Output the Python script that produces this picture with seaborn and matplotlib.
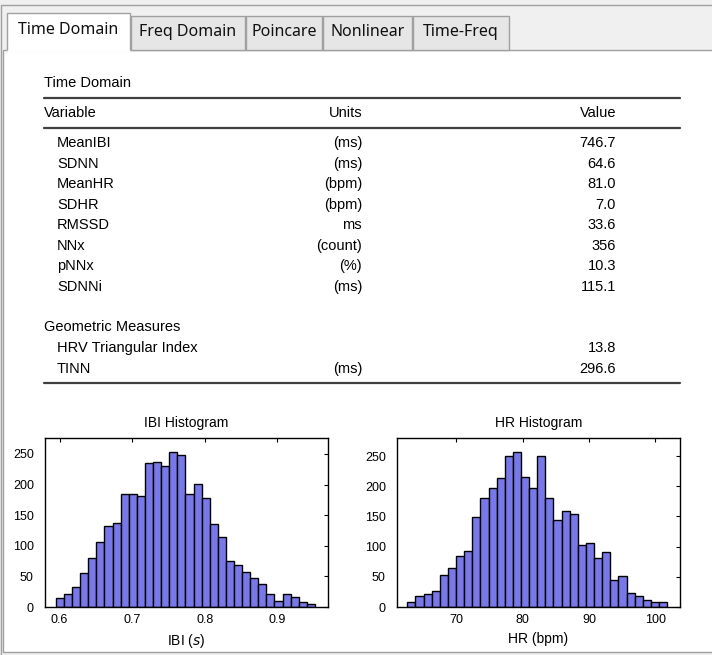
"""
HRV time domain panel
"""
import matplotlib
matplotlib.use("Agg")
import matplotlib.pyplot as plt
from matplotlib.patches import Rectangle
from matplotlib.lines import Line2D
import numpy as np
import pandas as pd
import seaborn as sns

W, H = 712, 655

tab_names = ["Time Domain", "Freq Domain", "Poincare", "Nonlinear", "Time-Freq"]

variables = ["MeanIBI", "SDNN", "MeanHR", "SDHR", "RMSSD", "NNx", "pNNx", "SDNNi"]
units = ["(ms)", "(ms)", "(bpm)", "(bpm)", "ms", "(count)", "(%)", "(ms)"]
values = ["746.7", "64.6", "81.0", "7.0", "33.6", "356", "10.3", "115.1"]

geo_variables = ["HRV Triangular Index", "TINN"]
geo_units = ["", "(ms)"]
geo_values = ["13.8", "296.6"]

# histogram bins (range + counts)
ibi_range = (0.595, 0.952)
ibi_counts = [14, 21, 33, 56, 80, 106, 132, 137, 185, 185, 182, 235, 237, 230,
              253, 249, 184, 201, 178, 135, 114, 75, 69, 57, 48, 38, 21, 10,
              21, 17, 8, 5]
hr_range = (62.66, 101.76)
hr_counts = [8, 19, 22, 26, 53, 65, 84, 93, 149, 181, 197, 214, 250, 257,
             216, 197, 250, 181, 144, 159, 154, 103, 106, 82, 91, 44, 51, 23,
             19, 12, 9, 9]

sns.set_style("white")
plt.rcParams['font.family'] = ['Liberation Sans', 'DejaVu Sans']
plt.rcParams.update({"text.color": "black", "axes.labelcolor": "black",
                     "xtick.color": "black", "ytick.color": "black"})

fig = plt.figure(figsize=(W / 100, H / 100), dpi=100, facecolor="#f0f0f0")


def fx(x):
    return x / W


def fy(y):
    return 1 - y / H


def rect(x0, y0, x1, y1, **kw):
    fig.patches.append(Rectangle((fx(x0), fy(y1)), (x1 - x0) / W, (y1 - y0) / H,
                                 transform=fig.transFigure, **kw))


def hline(x0, x1, y, **kw):
    fig.add_artist(Line2D([fx(x0), fx(x1)], [fy(y), fy(y)], transform=fig.transFigure, **kw))


def vline(x, y0, y1, **kw):
    fig.add_artist(Line2D([fx(x), fx(x)], [fy(y0), fy(y1)], transform=fig.transFigure, **kw))


# window frame + panel
edge = "#a0a0a0"
rect(3, 50, 716, 652, facecolor="white", edgecolor=edge, lw=1, zorder=-2)
hline(1, 712, 5, color=edge, lw=1)
vline(1, 5, 655, color=edge, lw=1)

# tabs
tab_edges = [7, 131, 246, 323, 413, 510]
for i, name in enumerate(tab_names):
    x0, x1 = tab_edges[i], tab_edges[i + 1] - 1
    if i == 0:
        rect(x0, 13, x1, 51, facecolor="white", edgecolor=edge, lw=1, zorder=-1)
        hline(x0 + 1, x1 - 1, 50.5, color="white", lw=2, zorder=3)
    else:
        rect(x0, 16, x1, 50, facecolor="#e6e6e6", edgecolor=edge, lw=1, zorder=-1)
    fig.text(fx((x0 + x1) / 2), fy(30 if i == 0 else 32), name, ha="center", va="center",
             fontsize=11.5, color="#101010", family=["Noto Sans", "DejaVu Sans"])

# table
fs = 10.5
fig.text(fx(44), fy(83), "Time Domain", va="center", fontsize=fs)
hline(44, 680, 98, color="#404040", lw=1.6)
fig.text(fx(44), fy(113), "Variable", va="center", fontsize=fs)
fig.text(fx(362), fy(113), "Units", va="center", ha="right", fontsize=fs)
fig.text(fx(616), fy(113), "Value", va="center", ha="right", fontsize=fs)
hline(44, 680, 128, color="#404040", lw=1.6)

for i, (v, u, val) in enumerate(zip(variables, units, values)):
    y = 143 + i * 20.57
    fig.text(fx(57), fy(y), v, va="center", fontsize=fs)
    fig.text(fx(362), fy(y), u, va="center", ha="right", fontsize=fs)
    fig.text(fx(616), fy(y), val, va="center", ha="right", fontsize=fs)

fig.text(fx(44), fy(327), "Geometric Measures", va="center", fontsize=fs)
for i, (v, u, val) in enumerate(zip(geo_variables, geo_units, geo_values)):
    y = 348 + i * 21
    fig.text(fx(57), fy(y), v, va="center", fontsize=fs)
    fig.text(fx(362), fy(y), u, va="center", ha="right", fontsize=fs)
    fig.text(fx(616), fy(y), val, va="center", ha="right", fontsize=fs)
hline(44, 680, 383, color="#404040", lw=1.6)


# histograms
def histogram(left, rng, counts, xlim, ylim, xticks, title, xlabel):
    ax = fig.add_axes([fx(left), fy(607), 283 / W, 169 / H])
    edges = np.linspace(rng[0], rng[1], len(counts) + 1)
    df = pd.DataFrame({"x": (edges[:-1] + edges[1:]) / 2, "n": counts})
    sns.histplot(data=df, x="x", weights="n", bins=len(counts), binrange=rng,
                 color="#7878e8", edgecolor="black", linewidth=1, alpha=1, ax=ax)
    ax.set_xlim(*xlim)
    ax.set_ylim(0, ylim)
    ax.set_xticks(xticks)
    ax.set_yticks([0, 50, 100, 150, 200, 250])
    ax.tick_params(direction="in", top=True, right=True, length=3, width=0.8,
                   labelsize=9, color="black", labelcolor="black")
    ax.tick_params(axis="y", pad=8)
    ax.tick_params(axis="x", pad=5)
    for s in ax.spines.values():
        s.set_color("black")
        s.set_linewidth(1)
    ax.set_title(title, fontsize=10, pad=8, color="black")
    ax.set_xlabel(xlabel, fontsize=10, labelpad=4, color="black")
    ax.set_ylabel("")
    return ax


histogram(45, ibi_range, ibi_counts, (0.580, 0.970), 276, [0.6, 0.7, 0.8, 0.9],
          "IBI Histogram", "IBI ($s$)")
histogram(397, hr_range, hr_counts, (61.1, 103.7), 280, [70, 80, 90, 100],
          "HR Histogram", "HR (bpm)")

plt.savefig("out.png", dpi=100, facecolor=fig.get_facecolor())
